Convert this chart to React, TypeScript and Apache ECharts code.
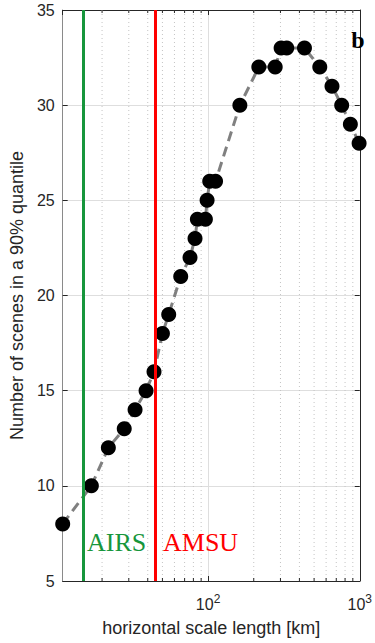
import React, { useEffect, useRef } from 'react';
import * as echarts from 'echarts';

// horizontal scale length [km] and number of scenes in a 90% quantile
const scaleKm = [11, 17, 22, 28, 33, 39, 44, 50, 55, 66, 76, 82, 85, 96, 98.5, 102.5, 112, 162, 216, 277, 303, 330, 432, 545, 656, 760, 867, 990];
const scenes = [8, 10, 12, 13, 14, 15, 16, 18, 19, 21, 22, 23, 24, 24, 25, 26, 26, 30, 32, 32, 33, 33, 33, 32, 31, 30, 29, 28];
const minorTickKm = [20, 30, 40, 50, 60, 70, 80, 90, 200, 300, 400, 500, 600, 700, 800, 900];
const instrumentNames = ['AIRS', 'AMSU'];
const instrumentKm = [15, 45];
const instrumentColors = ['#17963c', '#ff0000'];

const X_MIN = 11;
const X_MAX = 1000;
const Y_MIN = 5;
const Y_MAX = 35;
const Y_STEP = 5;

const SANS = "'Liberation Sans', Arial, Helvetica, sans-serif";
const SERIF = "'Liberation Serif', 'Times New Roman', serif";
const AX = '#262626';

export default function App() {
  const ref = useRef<HTMLDivElement>(null);
  useEffect(() => {
    if (!ref.current) return;
    const chart = echarts.init(ref.current, undefined, { renderer: 'svg' });
    const option: any = {
      animation: false,
      grid: { left: 60, right: 9, top: 10, bottom: 62 },
      xAxis: [
        {
          type: 'log',
          logBase: 10,
          min: X_MIN,
          max: X_MAX,
          position: 'bottom',
          name: 'horizontal scale length [km]',
          nameLocation: 'middle',
          nameGap: 38,
          nameTextStyle: { fontSize: 18, color: AX, fontFamily: SANS },
          axisLine: { show: true, lineStyle: { color: AX, width: 1 } },
          axisTick: { show: true, inside: true, length: 5, lineStyle: { color: AX } },
          axisLabel: {
            showMinLabel: false,
            margin: 12,
            formatter: (v: number) => {
              const e = Math.round(Math.log10(v));
              if (Math.abs(Math.log10(v) - e) > 1e-6) return '';
              return '{a|10}{s|' + e + '}';
            },
            rich: {
              a: { fontSize: 16, fontFamily: SANS, color: AX, lineHeight: 22 },
              s: { fontSize: 12, fontFamily: SANS, color: AX, lineHeight: 4, verticalAlign: 'top' },
            },
          },
          splitLine: { show: true, lineStyle: { color: '#dedede', width: 1 } },
        },
        {
          type: 'log',
          logBase: 10,
          min: X_MIN,
          max: X_MAX,
          position: 'top',
          axisLine: { show: true, lineStyle: { color: AX, width: 1 } },
          axisTick: { show: true, inside: true, length: 5, lineStyle: { color: AX } },
          axisLabel: { show: false },
          splitLine: { show: false },
        },
      ],
      yAxis: [
        {
          type: 'value',
          min: Y_MIN,
          max: Y_MAX,
          interval: Y_STEP,
          position: 'left',
          name: 'Number of scenes in a 90% quantile',
          nameLocation: 'middle',
          nameGap: 31,
          nameTextStyle: { fontSize: 18, color: AX, fontFamily: SANS },
          axisLine: { show: true, lineStyle: { color: '#8a8a8a', width: 1 } },
          axisTick: { show: true, inside: true, length: 5, lineStyle: { color: AX } },
          axisLabel: { fontSize: 16, color: AX, fontFamily: SANS, margin: 8 },
          splitLine: { show: true, lineStyle: { color: '#dedede', width: 1 } },
        },
        {
          type: 'value',
          min: Y_MIN,
          max: Y_MAX,
          interval: Y_STEP,
          position: 'right',
          axisLine: { show: true, lineStyle: { color: AX, width: 1 } },
          axisTick: { show: true, inside: true, length: 5, lineStyle: { color: AX } },
          axisLabel: { show: false },
          splitLine: { show: false },
        },
      ],
      series: [
        {
          type: 'custom',
          silent: true,
          z: 1,
          clip: false,
          data: minorTickKm.map((v) => [v, Y_MIN]),
          renderItem: (params: any, api: any) => {
            const pb = api.coord([api.value(0), Y_MIN]);
            const pt = api.coord([api.value(0), Y_MAX]);
            const x = pb[0];
            return {
              type: 'group',
              children: [
                { type: 'line', shape: { x1: x, y1: pt[1], x2: x, y2: pb[1] }, style: { stroke: '#c4c4c4', lineWidth: 1, lineDash: [1, 3] } },
                { type: 'line', shape: { x1: x, y1: pb[1], x2: x, y2: pb[1] - 3 }, style: { stroke: AX, lineWidth: 1 } },
                { type: 'line', shape: { x1: x, y1: pt[1], x2: x, y2: pt[1] + 3 }, style: { stroke: AX, lineWidth: 1 } },
              ],
            };
          },
        },
        {
          type: 'line',
          z: 3,
          clip: false,
          data: scaleKm.map((x, i) => [x, scenes[i]]),
          symbol: 'circle',
          symbolSize: 15,
          itemStyle: { color: '#000000' },
          lineStyle: { color: '#808080', width: 3, type: [10, 6] },
        },
        {
          type: 'line',
          z: 5,
          data: [],
          markLine: {
            silent: true,
            symbol: 'none',
            label: { show: false },
            data: instrumentKm.map((km, i) => ({
              xAxis: km,
              lineStyle: { color: instrumentColors[i], width: 3, type: 'solid' },
            })),
          },
        },
      ],
      graphic: [
        {
          type: 'text',
          x: 87,
          y: 542,
          z: 10,
          style: { text: instrumentNames[0], fill: instrumentColors[0], fontSize: 26, fontFamily: SERIF, align: 'left', verticalAlign: 'middle', textAlign: 'left', textVerticalAlign: 'middle' },
        },
        {
          type: 'text',
          x: 163,
          y: 542,
          z: 10,
          style: { text: instrumentNames[1], fill: instrumentColors[1], fontSize: 26, fontFamily: SERIF, align: 'left', verticalAlign: 'middle', textAlign: 'left', textVerticalAlign: 'middle' },
        },
        {
          type: 'text',
          x: 358,
          y: 40,
          z: 10,
          style: { text: 'b', fill: '#000000', fontSize: 24, fontWeight: 'bold', fontFamily: SERIF, align: 'center', verticalAlign: 'middle', textAlign: 'center', textVerticalAlign: 'middle' },
        },
      ],
    };
    chart.setOption(option);
    return () => chart.dispose();
  }, []);
  return <div ref={ref} style={{ position: 'absolute', left: 0, top: 0, width: 375, height: 643, background: '#ffffff' }} />;
}
